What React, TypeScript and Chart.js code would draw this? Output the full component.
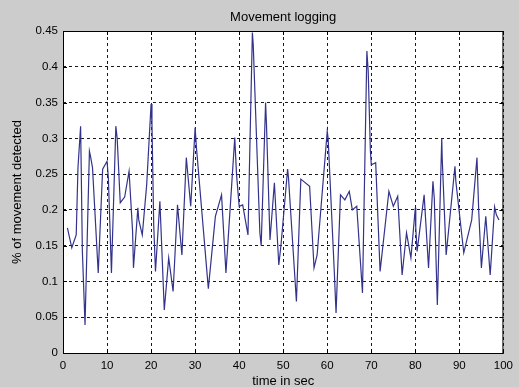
import { useEffect, useRef } from "react";
import { Chart, registerables } from "chart.js";

Chart.register(...registerables);

const chartTitle = "Movement logging";
const xAxisTitle = "time in sec";
const yAxisTitle = "% of movement detected";

const xTickLabels = ["0", "10", "20", "30", "40", "50", "60", "70", "80", "90", "100"];
const yTickLabels = ["0", "0.05", "0.1", "0.15", "0.2", "0.25", "0.3", "0.35", "0.4", "0.45"];

const times = [
  1, 2, 3, 3.4, 4, 4.4, 5, 6, 6.3, 6.7, 8, 9, 10, 10.3, 11, 12, 12.3, 13, 14, 15,
  15.8, 16, 17, 17.2, 18, 19, 20, 20.2, 20.6, 21, 22, 23, 24, 25, 26, 27, 28, 29, 30, 30.3,
  33, 34.6, 36, 37, 39, 39.4, 40, 40.8, 42, 43, 43.2, 44.7, 45, 46, 46.2, 47, 48, 49, 49.5, 51,
  51.2, 53, 54, 56, 57, 57.7, 60, 60.2, 61.6, 62, 63, 64, 65, 65.7, 66.7, 68, 69, 69.3, 69.8, 70,
  71, 72, 74, 75, 76, 77, 78, 79, 80, 80.1, 80.4, 82, 83, 84, 84.3, 85, 86, 86.1, 87, 89,
  89.2, 91, 92.8, 94, 94.4, 95, 96, 97, 98, 98.4, 99,
];

const movement = [
  0.175, 0.147, 0.165, 0.259, 0.317, 0.142, 0.039, 0.282, 0.273, 0.259, 0.112, 0.257, 0.268, 0.245, 0.112, 0.317, 0.3, 0.21, 0.218, 0.254,
  0.17, 0.119, 0.203, 0.186, 0.165, 0.235, 0.348, 0.32, 0.179, 0.114, 0.212, 0.06, 0.133, 0.086, 0.207, 0.137, 0.273, 0.205, 0.315, 0.287,
  0.09, 0.191, 0.221, 0.112, 0.301, 0.25, 0.205, 0.207, 0.165, 0.448, 0.43, 0.168, 0.15, 0.35, 0.32, 0.158, 0.238, 0.123, 0.151, 0.257,
  0.245, 0.072, 0.243, 0.233, 0.119, 0.137, 0.31, 0.3, 0.114, 0.056, 0.221, 0.214, 0.226, 0.2, 0.205, 0.084, 0.422, 0.394, 0.282, 0.263,
  0.266, 0.114, 0.226, 0.205, 0.219, 0.109, 0.168, 0.133, 0.203, 0.175, 0.142, 0.221, 0.119, 0.24, 0.217, 0.067, 0.3, 0.273, 0.137, 0.261,
  0.24, 0.14, 0.186, 0.273, 0.198, 0.119, 0.191, 0.109, 0.204, 0.193, 0.186,
];

const FONT_FAMILY = '"Liberation Sans", Arial, sans-serif';

export default function App() {
  const ref = useRef<HTMLCanvasElement | null>(null);

  useEffect(() => {
    if (!ref.current) return;

    const matlabPlugin = {
      id: "matlabFrame",
      beforeDraw(chart: any) {
        const { ctx, chartArea: a } = chart;
        ctx.save();
        ctx.fillStyle = "#ffffff";
        ctx.fillRect(a.left, a.top, a.right - a.left, a.bottom - a.top);
        ctx.restore();
      },
      afterDraw(chart: any) {
        const { ctx, chartArea: a, scales } = chart;
        ctx.save();
        ctx.strokeStyle = "#000000";
        ctx.lineWidth = 1;
        ctx.setLineDash([]);
        ctx.strokeRect(a.left + 0.5, a.top + 0.5, a.right - a.left - 1, a.bottom - a.top);
        const tl = 4;
        ctx.beginPath();
        scales.x.ticks.forEach((t: any) => {
          const px = Math.round(scales.x.getPixelForValue(t.value)) + 0.5;
          ctx.moveTo(px, a.bottom);
          ctx.lineTo(px, a.bottom - tl);
          ctx.moveTo(px, a.top);
          ctx.lineTo(px, a.top + tl);
        });
        scales.y.ticks.forEach((t: any) => {
          const py = Math.round(scales.y.getPixelForValue(t.value)) + 0.5;
          ctx.moveTo(a.left, py);
          ctx.lineTo(a.left + tl, py);
          ctx.moveTo(a.right, py);
          ctx.lineTo(a.right - tl, py);
        });
        ctx.stroke();

        const cx = (a.left + a.right) / 2;
        ctx.fillStyle = "#000000";
        ctx.textAlign = "center";
        ctx.textBaseline = "middle";
        ctx.font = `13px ${FONT_FAMILY}`;
        ctx.fillText(chartTitle, cx, 17);
        ctx.fillText(xAxisTitle, cx, 381);
        ctx.translate(17, (a.top + a.bottom) / 2);
        ctx.rotate(-Math.PI / 2);
        ctx.fillText(yAxisTitle, 0, 0);
        ctx.restore();
      },
    };

    const chart = new Chart(ref.current, {
      type: "line",
      data: {
        datasets: [
          {
            data: times.map((t, i) => ({ x: t, y: movement[i] })),
            borderColor: "#33338c",
            borderWidth: 1.2,
            pointRadius: 0,
            tension: 0,
            fill: false,
          },
        ],
      },
      options: {
        responsive: false,
        animation: false,
        layout: { padding: { top: 31, right: 14, left: 0, bottom: 0 } },
        plugins: {
          legend: { display: false },
          tooltip: { enabled: false },
          title: { display: false },
        },
        scales: {
          x: {
            type: "linear",
            min: 0,
            max: 100,
            afterFit: (s: any) => {
              s.height = 34;
            },
            ticks: {
              stepSize: 10,
              color: "#000000",
              padding: 6,
              maxRotation: 0,
              autoSkip: false,
              font: { family: FONT_FAMILY, size: 11.5 },
              callback: (_v: any, i: number) => xTickLabels[i],
            },
            grid: { color: "#1a1a1a", lineWidth: 1, drawTicks: false },
            border: { display: false, dash: [3, 3] },
          },
          y: {
            type: "linear",
            min: 0,
            max: 0.45,
            afterFit: (s: any) => {
              s.width = 63;
            },
            ticks: {
              stepSize: 0.05,
              color: "#000000",
              padding: 5,
              autoSkip: false,
              font: { family: FONT_FAMILY, size: 11.5 },
              callback: (_v: any, i: number) => yTickLabels[i],
            },
            grid: { color: "#1a1a1a", lineWidth: 1, drawTicks: false },
            border: { display: false, dash: [3, 3] },
          },
        },
      },
      plugins: [matlabPlugin],
    } as any);

    return () => chart.destroy();
  }, []);

  return (
    <div
      style={{
        position: "fixed",
        left: 0,
        top: 0,
        width: 519,
        height: 387,
        background: "#cccccc",
      }}
    >
      <canvas ref={ref} width={519} height={387} style={{ display: "block" }} />
    </div>
  );
}
